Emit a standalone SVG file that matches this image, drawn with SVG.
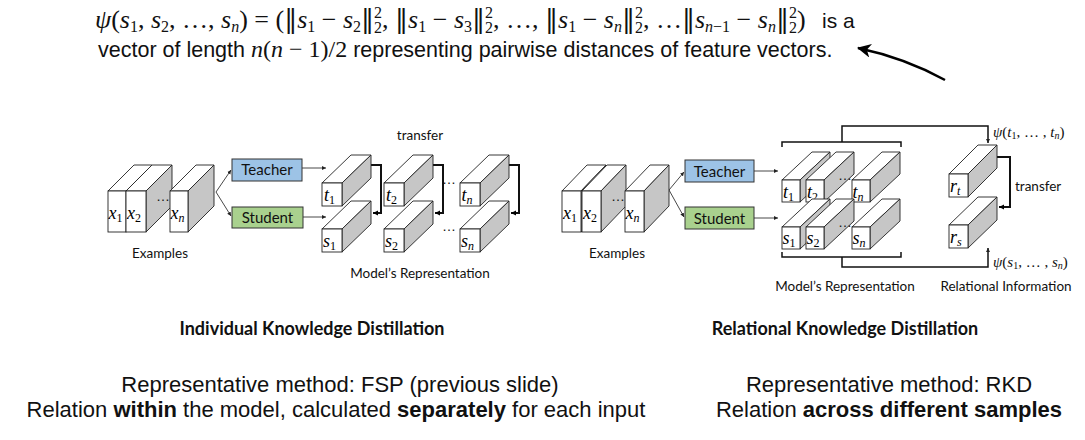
<svg xmlns="http://www.w3.org/2000/svg" width="1085" height="440" viewBox="0 0 1085 440">
<defs>
<marker id="ah" markerWidth="6" markerHeight="6" refX="5" refY="3" orient="auto" markerUnits="userSpaceOnUse">
<path d="M0,0.5 L5,3 L0,5.5 z" fill="#000"/>
</marker>
<marker id="ahs" markerWidth="5" markerHeight="5" refX="4" refY="2.5" orient="auto" markerUnits="userSpaceOnUse">
<path d="M0,0.5 L4,2.5 L0,4.5 z" fill="#222"/>
</marker>
<marker id="big" markerWidth="16" markerHeight="14" refX="13" refY="7" orient="auto" markerUnits="userSpaceOnUse">
<path d="M0,0 L14,7 L0,14 L4,7 z" fill="#000"/>
</marker>
<style>
.f{fill:#fff;stroke:#222;stroke-width:0.9}
.t{fill:#fff;stroke:#222;stroke-width:0.9}
.s{fill:#c6c6c6;stroke:#222;stroke-width:0.9}
.m{font-family:"Liberation Serif",serif;font-style:italic;font-size:18px;fill:#000}
.sb{font-style:normal;font-size:12px}
.sbi{font-style:italic;font-size:12px}
.lab{font-family:Lato,"Liberation Sans",sans-serif;font-size:13.5px;fill:#111}
.box{font-family:Lato,"Liberation Sans",sans-serif;font-size:15px;fill:#111;text-anchor:middle}
.ttl{font-family:Lato,"Liberation Sans",sans-serif;font-weight:bold;font-size:18px;fill:#111;text-anchor:middle}
.hel{font-family:"Liberation Sans",Arial,sans-serif;font-size:22px;fill:#111;text-anchor:middle}
.c{fill:none;stroke:#111;stroke-width:2}
.thin{fill:none;stroke:#333;stroke-width:0.9}
.dots{font-family:"Liberation Sans",sans-serif;font-size:14px;fill:#111;text-anchor:middle}
.dv{font-family:"DejaVu Serif",serif;font-style:normal}
.i{font-style:italic}
.sup{font-size:16px}
</style>
</defs>

<!-- top formula -->
<g id="formula">
<text x="95" y="28" font-family="Liberation Serif,serif" font-size="26" fill="#111"><tspan class="i">ψ</tspan>(<tspan class="i">s</tspan><tspan class="sup" dy="4">1</tspan><tspan dy="-4">, </tspan><tspan class="i">s</tspan><tspan class="sup" dy="4">2</tspan><tspan dy="-4">, …, </tspan><tspan class="i">s</tspan><tspan class="sup i" dy="4">n</tspan><tspan dy="-4">) = (</tspan><tspan class="dv">‖</tspan><tspan class="i">s</tspan><tspan class="sup" dy="4">1</tspan><tspan dy="-4"> − </tspan><tspan class="i">s</tspan><tspan class="sup" dy="4">2</tspan><tspan class="dv" dy="-4">‖</tspan><tspan class="sup" dy="-10">2</tspan><tspan class="sup" dx="-8" dy="15">2</tspan><tspan dy="-5">, </tspan><tspan class="dv">‖</tspan><tspan class="i">s</tspan><tspan class="sup" dy="4">1</tspan><tspan dy="-4"> − </tspan><tspan class="i">s</tspan><tspan class="sup" dy="4">3</tspan><tspan class="dv" dy="-4">‖</tspan><tspan class="sup" dy="-10">2</tspan><tspan class="sup" dx="-8" dy="15">2</tspan><tspan dy="-5">, …, </tspan><tspan class="dv">‖</tspan><tspan class="i">s</tspan><tspan class="sup" dy="4">1</tspan><tspan dy="-4"> − </tspan><tspan class="i">s</tspan><tspan class="sup i" dy="4">n</tspan><tspan class="dv" dy="-4">‖</tspan><tspan class="sup" dy="-10">2</tspan><tspan class="sup" dx="-8" dy="15">2</tspan><tspan dy="-5">, …</tspan><tspan class="dv">‖</tspan><tspan class="i">s</tspan><tspan class="sup i" dy="4">n</tspan><tspan class="sup">−1</tspan><tspan dy="-4"> − </tspan><tspan class="i">s</tspan><tspan class="sup i" dy="4">n</tspan><tspan class="dv" dy="-4">‖</tspan><tspan class="sup" dy="-10">2</tspan><tspan class="sup" dx="-8" dy="15">2</tspan><tspan dy="-5">)</tspan></text>
<text x="822" y="28" font-family="Liberation Sans,Arial,sans-serif" font-size="21" fill="#111">is a</text>
<text x="98" y="57" font-family="Liberation Sans,Arial,sans-serif" font-size="21.5" fill="#111">vector of length <tspan font-family="Liberation Serif,serif" font-size="24"><tspan class="i">n</tspan>(<tspan class="i">n</tspan> − 1)/2</tspan> representing pairwise distances of feature vectors.</text>
</g>

<g id="connectors">
<path d="M945,80 Q905,58 858,48" fill="none" stroke="#000" stroke-width="2.5" marker-end="url(#big)"/>
<path class="thin" d="M216,192 L231,170" marker-end="url(#ahs)"/>
<path class="thin" d="M216,192 L231,216" marker-end="url(#ahs)"/>
<path class="thin" d="M302,168 H326" marker-end="url(#ahs)"/>
<path class="thin" d="M303,217 H326" marker-end="url(#ahs)"/>
<path class="c" d="M371,165 H381 V213 H373" marker-end="url(#ah)"/>
<path class="c" d="M433,165 H443 V213 H435" marker-end="url(#ah)"/>
<path class="c" d="M509,165 H519 V213 H511" marker-end="url(#ah)"/>
<path class="thin" d="M669,190 L684,172" marker-end="url(#ahs)"/>
<path class="thin" d="M669,190 L684,217" marker-end="url(#ahs)"/>
<path class="thin" d="M754,171 H778" marker-end="url(#ahs)"/>
<path class="thin" d="M754,218 H778" marker-end="url(#ahs)"/>
<path class="c" style="stroke-width:1.5" d="M782,147 V142 H901 V147"/>
<path class="c" style="stroke-width:1.5" d="M782,252 V257 H901 V252"/>
<path class="c" style="stroke-width:1.5" d="M842,142 V126 H988 V143" marker-end="url(#ahs)"/>
<path class="c" style="stroke-width:1.5" d="M842,257 V267 H988 V248" marker-end="url(#ahs)"/>
<path class="c" d="M997,157 H1010 V207 H999" marker-end="url(#ah)"/>
</g>

<!-- LEFT examples -->
<g id="L-x1"><path class="t" d="M108,191 l26,-26 h18 l-26,26z"/><path class="s" d="M126,191 l26,-26 v41 l-26,26z"/><rect class="f" x="108" y="191" width="18" height="41"/><text class="m" x="108.5" y="219">x<tspan class="sb" dy="3">1</tspan></text></g>
<g id="L-x2"><path class="t" d="M126,191 l26,-26 h20 l-26,26z"/><path class="s" d="M146,191 l26,-26 v41 l-26,26z"/><rect class="f" x="126" y="191" width="20" height="41"/><text class="m" x="127" y="219">x<tspan class="sb" dy="3">2</tspan></text></g>
<text class="dots" x="163" y="201">…</text>
<g id="L-xn"><path class="t" d="M170,191 l26,-26 h18 l-26,26z"/><path class="s" d="M188,191 l26,-26 v41 l-26,26z"/><rect class="f" x="170" y="191" width="18" height="41"/><text class="m" x="170.5" y="219">x<tspan class="sbi" dy="3">n</tspan></text></g>
<text class="lab" x="160" y="258" text-anchor="middle">Examples</text>

<g id="L-teacher"><rect x="232" y="159" width="70" height="22" fill="#9dc3e6" stroke="#333" stroke-width="1"/><text class="box" x="267" y="175">Teacher</text></g>
<g id="L-student"><rect x="232" y="207" width="71" height="21" fill="#a9d18e" stroke="#333" stroke-width="1"/><text class="box" x="267.5" y="222.5">Student</text></g>

<text class="lab" x="420" y="140" text-anchor="middle">transfer</text>
<g id="L-t1"><path class="t" d="M322,183 l29,-28 h20 l-29,28z"/><path class="s" d="M342,183 l29,-28 v23 l-29,28z"/><rect class="f" x="322" y="183" width="20" height="23"/><text class="m" x="324" y="201">t<tspan class="sb" dy="3">1</tspan></text></g>
<g id="L-t2"><path class="t" d="M384,183 l29,-28 h20 l-29,28z"/><path class="s" d="M404,183 l29,-28 v23 l-29,28z"/><rect class="f" x="384" y="183" width="20" height="23"/><text class="m" x="386" y="201">t<tspan class="sb" dy="3">2</tspan></text></g>
<text class="dots" x="449" y="184">…</text>
<g id="L-tn"><path class="t" d="M460,183 l29,-28 h20 l-29,28z"/><path class="s" d="M480,183 l29,-28 v23 l-29,28z"/><rect class="f" x="460" y="183" width="20" height="23"/><text class="m" x="461.5" y="201">t<tspan class="sbi" dy="3">n</tspan></text></g>
<g id="L-s1"><path class="t" d="M322,229 l29,-28 h20 l-29,28z"/><path class="s" d="M342,229 l29,-28 v23 l-29,28z"/><rect class="f" x="322" y="229" width="20" height="23"/><text class="m" x="323" y="247">s<tspan class="sb" dy="3">1</tspan></text></g>
<g id="L-s2"><path class="t" d="M384,229 l29,-28 h20 l-29,28z"/><path class="s" d="M404,229 l29,-28 v23 l-29,28z"/><rect class="f" x="384" y="229" width="20" height="23"/><text class="m" x="385" y="247">s<tspan class="sb" dy="3">2</tspan></text></g>
<text class="dots" x="449" y="231">…</text>
<g id="L-sn"><path class="t" d="M460,229 l29,-28 h20 l-29,28z"/><path class="s" d="M480,229 l29,-28 v23 l-29,28z"/><rect class="f" x="460" y="229" width="20" height="23"/><text class="m" x="461" y="247">s<tspan class="sbi" dy="3">n</tspan></text></g>
<text class="lab" x="420" y="278" text-anchor="middle">Model’s Representation</text>

<!-- RIGHT examples -->
<g id="R-x1"><path class="t" d="M562,191 l25,-26 h19 l-25,26z"/><path class="s" d="M581,191 l25,-26 v41 l-25,26z"/><rect class="f" x="562" y="191" width="19" height="41"/><text class="m" x="563" y="219">x<tspan class="sb" dy="3">1</tspan></text></g>
<g id="R-x2"><path class="t" d="M582,191 l25,-26 h19 l-25,26z"/><path class="s" d="M601,191 l25,-26 v41 l-25,26z"/><rect class="f" x="582" y="191" width="19" height="41"/><text class="m" x="583" y="219">x<tspan class="sb" dy="3">2</tspan></text></g>
<text class="dots" x="618" y="201">…</text>
<g id="R-xn"><path class="t" d="M625,191 l25,-26 h19 l-25,26z"/><path class="s" d="M644,191 l25,-26 v41 l-25,26z"/><rect class="f" x="625" y="191" width="19" height="41"/><text class="m" x="625.5" y="219">x<tspan class="sbi" dy="3">n</tspan></text></g>
<text class="lab" x="617" y="258" text-anchor="middle">Examples</text>

<g id="R-teacher"><rect x="685" y="160" width="69" height="22" fill="#9dc3e6" stroke="#333" stroke-width="1"/><text class="box" x="719.5" y="176.5">Teacher</text></g>
<g id="R-student"><rect x="685" y="207" width="69" height="22" fill="#a9d18e" stroke="#333" stroke-width="1"/><text class="box" x="719.5" y="223.5">Student</text></g>

<g id="R-t1"><path class="t" d="M782,180 l30,-28 h18 l-30,28z"/><path class="s" d="M800,180 l30,-28 v22 l-30,28z"/><rect class="f" x="782" y="180" width="18" height="22"/><text class="m" x="783" y="198">t<tspan class="sb" dy="3">1</tspan></text></g>
<g id="R-t2"><path class="t" d="M806,180 l30,-28 h18 l-30,28z"/><path class="s" d="M824,180 l30,-28 v22 l-30,28z"/><rect class="f" x="806" y="180" width="18" height="22"/><text class="m" x="807" y="198">t<tspan class="sb" dy="3">2</tspan></text></g>
<text class="dots" x="845" y="180">…</text>
<g id="R-tn"><path class="t" d="M852,180 l30,-28 h18 l-30,28z"/><path class="s" d="M870,180 l30,-28 v22 l-30,28z"/><rect class="f" x="852" y="180" width="18" height="22"/><text class="m" x="852.5" y="198">t<tspan class="sbi" dy="3">n</tspan></text></g>
<g id="R-s1"><path class="t" d="M782,227 l30,-28 h18 l-30,28z"/><path class="s" d="M800,227 l30,-28 v22 l-30,28z"/><rect class="f" x="782" y="227" width="18" height="22"/><text class="m" x="782.5" y="244">s<tspan class="sb" dy="3">1</tspan></text></g>
<g id="R-s2"><path class="t" d="M806,227 l30,-28 h18 l-30,28z"/><path class="s" d="M824,227 l30,-28 v22 l-30,28z"/><rect class="f" x="806" y="227" width="18" height="22"/><text class="m" x="806.5" y="244">s<tspan class="sb" dy="3">2</tspan></text></g>
<text class="dots" x="845" y="227">…</text>
<g id="R-sn"><path class="t" d="M852,227 l30,-28 h18 l-30,28z"/><path class="s" d="M870,227 l30,-28 v22 l-30,28z"/><rect class="f" x="852" y="227" width="18" height="22"/><text class="m" x="852.5" y="244">s<tspan class="sbi" dy="3">n</tspan></text></g>
<text class="lab" x="845" y="291" text-anchor="middle">Model’s Representation</text>

<g id="R-rt"><path class="t" d="M949,174 l29,-29 h19 l-29,29z"/><path class="s" d="M968,174 l29,-29 v23 l-29,29z"/><rect class="f" x="949" y="174" width="19" height="23"/><text class="m" x="950" y="192">r<tspan class="sbi" dy="3">t</tspan></text></g>
<g id="R-rs"><path class="t" d="M949,225 l29,-28 h19 l-29,28z"/><path class="s" d="M968,225 l29,-28 v23 l-29,28z"/><rect class="f" x="949" y="225" width="19" height="23"/><text class="m" x="950" y="243">r<tspan class="sbi" dy="3">s</tspan></text></g>
<text class="lab" x="1015" y="191">transfer</text>
<text x="993" y="137" font-family="Liberation Serif,serif" font-size="15" fill="#111"><tspan class="i">ψ</tspan>(<tspan class="i">t</tspan><tspan font-size="10" dy="2">1</tspan><tspan dy="-2">, … , </tspan><tspan class="i">t</tspan><tspan font-size="10" class="i" dy="2">n</tspan><tspan dy="-2">)</tspan></text>
<text x="993" y="267" font-family="Liberation Serif,serif" font-size="15" fill="#111"><tspan class="i">ψ</tspan>(<tspan class="i">s</tspan><tspan font-size="10" dy="2">1</tspan><tspan dy="-2">, … , </tspan><tspan class="i">s</tspan><tspan font-size="10" class="i" dy="2">n</tspan><tspan dy="-2">)</tspan></text>
<text class="lab" x="1006" y="291" text-anchor="middle">Relational Information</text>

<text class="ttl" x="312" y="335">Individual Knowledge Distillation</text>
<text class="ttl" x="845" y="335">Relational Knowledge Distillation</text>
<text class="hel" x="340" y="392">Representative method: FSP (previous slide)</text>
<text class="hel" x="336" y="417">Relation <tspan font-weight="bold">within</tspan> the model, calculated <tspan font-weight="bold">separately</tspan> for each input</text>
<text class="hel" x="889" y="392">Representative method: RKD</text>
<text class="hel" x="889" y="417">Relation <tspan font-weight="bold">across different samples</tspan></text>
</svg>
